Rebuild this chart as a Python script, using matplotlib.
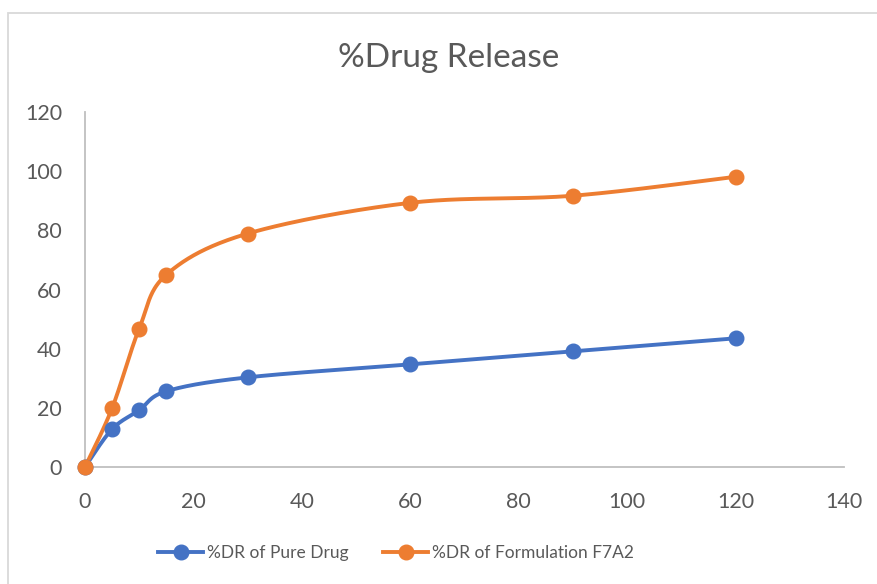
import numpy as np
import matplotlib
matplotlib.use("Agg")
import matplotlib.pyplot as plt
from matplotlib.patches import Rectangle
from matplotlib.lines import Line2D

# Dissolution data: time (min) vs cumulative % drug released
time_min = [0, 5, 10, 15, 30, 60, 90, 120]
dr_pure = [0, 12.8, 19.2, 25.6, 30.3, 34.7, 39.1, 43.5]
dr_f7a2 = [0, 19.9, 46.8, 65.0, 78.9, 89.3, 91.7, 98.1]

series_names = ["%DR of Pure Drug", "%DR of Formulation F7A2"]
series_colors = ["#4472C4", "#ED7D31"]
x_ticks = [0, 20, 40, 60, 80, 100, 120, 140]
y_ticks = [0, 20, 40, 60, 80, 100, 120]

TEXT = "#595959"
AXIS = "#BFBFBF"
FONT = ["Lato", "DejaVu Sans"]
plt.rcParams["font.family"] = FONT


def smooth(x, y, n=40):
    """Bezier smoothing through every point (Catmull-Rom style control points)."""
    x = np.asarray(x, float)
    y = np.asarray(y, float)
    pts = np.column_stack([x, y])
    out = [pts[0]]
    for i in range(len(pts) - 1):
        p0 = pts[i - 1] if i > 0 else pts[i]
        p1 = pts[i]
        p2 = pts[i + 1]
        p3 = pts[i + 2] if i + 2 < len(pts) else pts[i + 1]
        c1 = p1 + (p2 - p0) / 6.0
        c2 = p2 - (p3 - p1) / 6.0
        t = np.linspace(0, 1, n)[1:, None]
        seg = ((1 - t) ** 3) * p1 + 3 * ((1 - t) ** 2) * t * c1 \
            + 3 * (1 - t) * t ** 2 * c2 + t ** 3 * p2
        out.extend(seg)
    out = np.array(out)
    return out[:, 0], out[:, 1]


W, H = 878, 584
fig = plt.figure(figsize=(W / 100, H / 100), dpi=100)
fig.patch.set_facecolor("white")

# chart frame
fig.add_artist(Rectangle((8 / W, -0.05), 1.0, 1 - 13 / H + 0.05,
                         transform=fig.transFigure, fill=False,
                         edgecolor="#D9D9D9", linewidth=1.3))

ax = fig.add_axes([85 / W, (H - 467) / H, (844 - 85) / W, (467 - 112) / H])
ax.set_xlim(0, 140)
ax.set_ylim(0, 120)

for yv, col, name in zip([dr_pure, dr_f7a2], series_colors, series_names):
    sx, sy = smooth(time_min, yv)
    ax.plot(sx, sy, color=col, linewidth=2.8, solid_capstyle="round",
            clip_on=False, zorder=3)
    ax.plot(time_min, yv, linestyle="none", marker="o", markersize=10.5,
            color=col, clip_on=False, zorder=4)

ax.set_xticks(x_ticks)
ax.set_yticks(y_ticks)
ax.tick_params(axis="both", length=0, labelsize=15.5, labelcolor=TEXT)
ax.tick_params(axis="x", pad=18)
ax.tick_params(axis="y", pad=16.5)
for s in ["top", "right"]:
    ax.spines[s].set_visible(False)
for s in ["left", "bottom"]:
    ax.spines[s].set_color(AXIS)
    ax.spines[s].set_linewidth(1.3)

fig.text(449 / W, 1 - 58 / H, "%Drug Release", ha="center", va="center",
         fontsize=24, color=TEXT)

handles = [Line2D([0], [0], color=c, linewidth=2.8, marker="o", markersize=10.5)
           for c in series_colors]
fig.legend(handles, series_names, loc="center", bbox_to_anchor=(396 / W, 1 - 553 / H),
           ncol=2, frameon=False, fontsize=12.5, labelcolor=TEXT,
           handlelength=2.6, handletextpad=0.2, columnspacing=2.0)

fig.savefig("out.png", dpi=100, facecolor="white")
